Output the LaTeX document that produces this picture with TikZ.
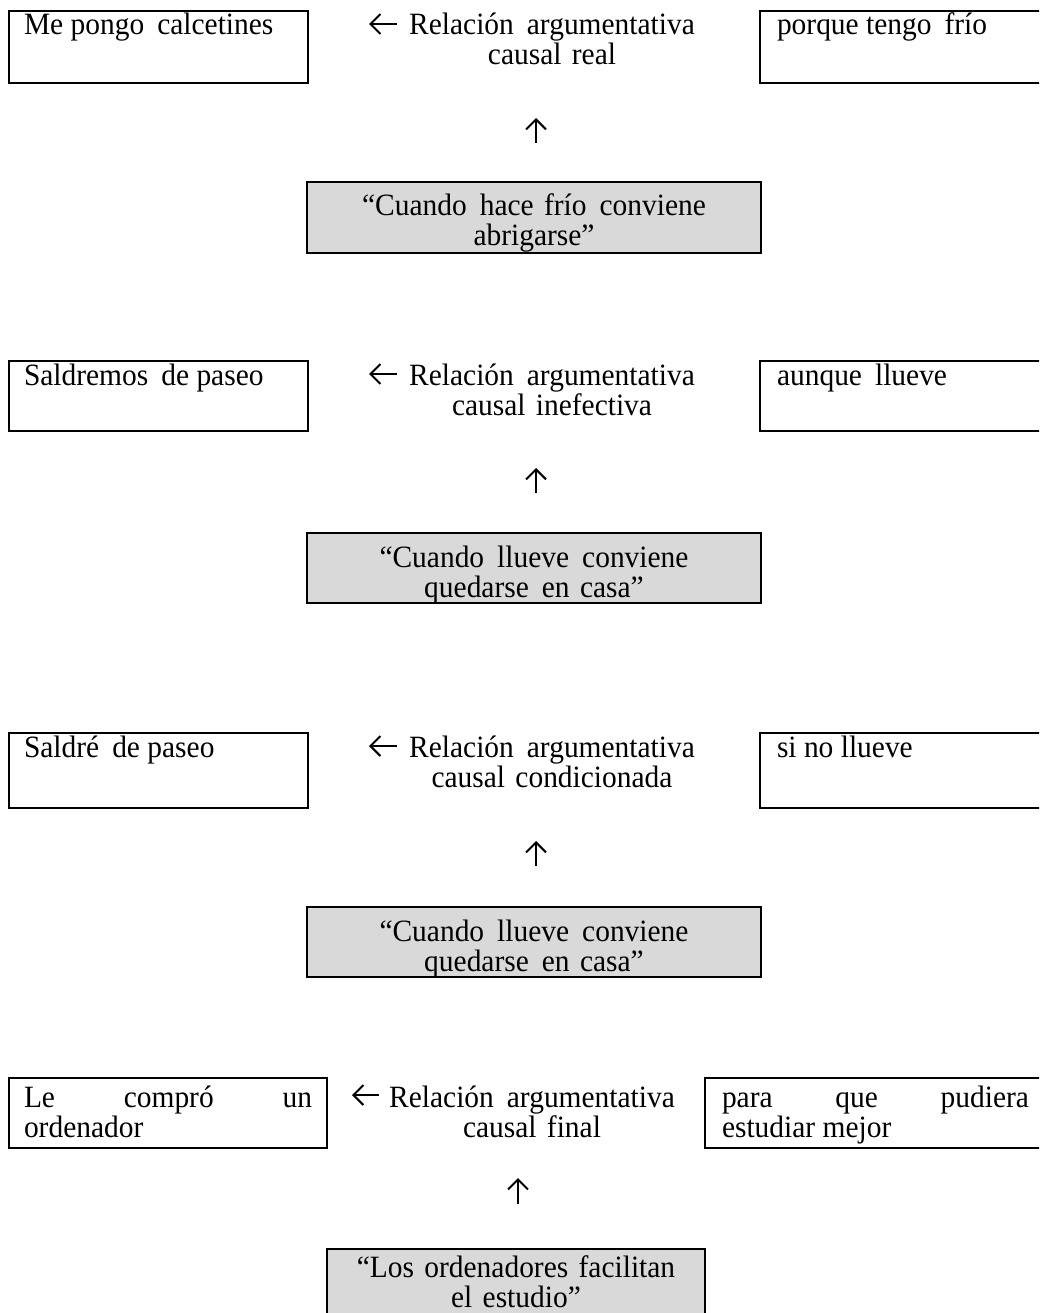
\documentclass[tikz,border=0pt]{standalone}
\usepackage{fontspec}
\usetikzlibrary{arrows.meta}
\setmainfont{Liberation Serif}[FakeStretch=0.95]
\definecolor{boxgrey}{HTML}{D9D9D9}
\tolerance=10000
\hbadness=10000
\newcommand\dsp{\hskip0.42em\relax}
\begin{document}
\begin{tikzpicture}[x=1pt,y=-1pt,
  every node/.style={font=\fontsize{31}{30}\selectfont, outer sep=0pt},
  whitebox/.style={draw, line width=2.8pt, anchor=north west, inner ysep=0pt, text height=24pt, align=justify},
  greybox/.style={draw, line width=2.8pt, fill=boxgrey, anchor=north, inner xsep=0pt, inner ysep=0pt, align=center},
  relation/.style={anchor=base, text width=380pt, align=center, inner sep=0pt},
  symarrow/.style={line width=2pt, -{Straight Barb[length=10pt, width=20pt, line width=2pt]}}
]
\useasboundingbox (0,0) rectangle (1039,1313);
\clip (0,0) rectangle (1039,1313);
\fill[white] (0,0) rectangle (1039,1313);

% Block 1
\node[whitebox, inner xsep=15pt, text width=269pt, text depth=48pt] (lb1) at (9,11) {Me pongo\dsp calcetines};
\node[relation] (r1) at (552,35) {Relación\dsp argumentativa\\causal real};
\coordinate (l1s) at (397,24); \coordinate (l1e) at (369,24);
\draw[symarrow] (l1s) -- (l1e);
\node[whitebox, inner xsep=17pt, text width=251pt, text depth=48pt] (rb1) at (760,11) {porque tengo\dsp frío};
\coordinate (u1s) at (536,143); \coordinate (u1e) at (536,118);
\draw[symarrow] (u1s) -- (u1e);
\node[greybox, text width=454pt, text height=34pt, text depth=37pt] (g1) at (534,182) {“Cuando\dsp hace frío\dsp conviene\\abrigarse”};

% Block 2
\node[whitebox, inner xsep=15pt, text width=269pt, text depth=46pt] (lb2) at (9,361) {Saldremos\dsp de paseo};
\node[relation] (r2) at (552,385) {Relación\dsp argumentativa\\causal inefectiva};
\coordinate (l2s) at (397,374); \coordinate (l2e) at (369,374);
\draw[symarrow] (l2s) -- (l2e);
\node[whitebox, inner xsep=17pt, text width=251pt, text depth=46pt] (rb2) at (760,361) {aunque\dsp llueve};
\coordinate (u2s) at (536,493); \coordinate (u2e) at (536,468);
\draw[symarrow] (u2s) -- (u2e);
\node[greybox, text width=454pt, text height=34pt, text depth=36pt] (g2) at (534,533) {“Cuando\dsp llueve\dsp conviene\\quedarse\dsp en casa”};

% Block 3
\node[whitebox, inner xsep=15pt, text width=269pt, text depth=51pt] (lb3) at (9,733) {Saldré\dsp de paseo};
\node[relation] (r3) at (552,757) {Relación\dsp argumentativa\\causal condicionada};
\coordinate (l3s) at (397,746); \coordinate (l3e) at (369,746);
\draw[symarrow] (l3s) -- (l3e);
\node[whitebox, inner xsep=17pt, text width=251pt, text depth=51pt] (rb3) at (760,733) {si no llueve};
\coordinate (u3s) at (536,866); \coordinate (u3e) at (536,841);
\draw[symarrow] (u3s) -- (u3e);
\node[greybox, text width=454pt, text height=34pt, text depth=36pt] (g3) at (534,907) {“Cuando\dsp llueve\dsp conviene\\quedarse\dsp en casa”};

% Block 4
\node[whitebox, inner xsep=15pt, text width=288pt, text height=29pt, text depth=41pt] (lb4) at (9,1078) {Le compró un\linebreak ordenador};
\node[relation] (r4) at (532,1107) {Relación\dsp argumentativa\\causal final};
\coordinate (l4s) at (379,1095); \coordinate (l4e) at (352,1095);
\draw[symarrow] (l4s) -- (l4e);
\node[whitebox, inner xsep=17pt, text width=307pt, text height=29pt, text depth=41pt] (rb4) at (705,1078) {para que pudiera\linebreak estudiar mejor};
\coordinate (u4s) at (518,1204); \coordinate (u4e) at (518,1178);
\draw[symarrow] (u4s) -- (u4e);
\node[greybox, text width=378pt, text height=28pt, text depth=80pt] (g4) at (516,1249) {“Los ordenadores facilitan\\el estudio”};
\end{tikzpicture}
\end{document}
